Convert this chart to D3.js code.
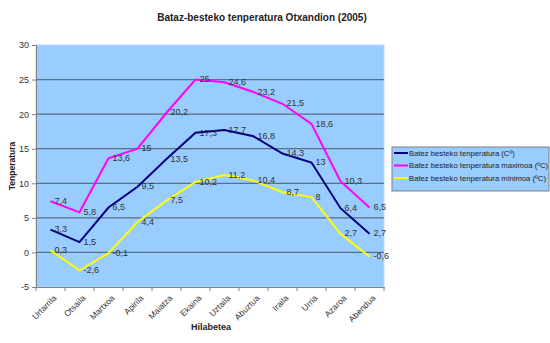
<!DOCTYPE html>
<html><head><meta charset="utf-8">
<script src="https://cdn.jsdelivr.net/npm/d3@7"></script>
<style>body{margin:0;background:#fff}svg{display:block;font-family:"Liberation Sans",Arial,sans-serif}</style>
</head><body><svg id="c" width="550" height="343"></svg>
<script>
const months = ["Urtarrila","Otsaila","Martxoa","Apirila","Maiatza","Ekaina","Uztaila","Abuztua","Iraila","Urria","Azaroa","Abendua"];
const avgTemp = [3.3,1.5,6.5,9.5,13.5,17.3,17.7,16.8,14.3,13,6.4,2.7];
const maxTemp = [7.4,5.8,13.6,15,20.2,25,24.6,23.2,21.5,18.6,10.3,6.5];
const minTemp = [0.3,-2.6,-0.1,4.4,7.5,10.2,11.2,10.4,8.7,8,2.7,-0.6];
const yTicks = [-5,0,5,10,15,20,25,30];
const seriesNames = ["Batez besteko tenperatura (Cº)","Batez besteko tenperatura maximoa (ºC)","Batez besteko tenperatura minimoa (ºC)"];
const seriesColors = ["#000080","#ff00ff","#ffff00"];

const svg = d3.select("#c");
const L=36,R=384,T=45,B=287;
const x = d3.scaleBand().domain(months).range([L,R]);
const y = d3.scaleLinear().domain([-5,30]).range([B,T]);
const fmt = v => String(v).replace(".",",");

svg.append("rect").attr("x",L).attr("y",T).attr("width",R-L).attr("height",B-T).attr("fill","#99ccff").attr("stroke","#bcdcff");
svg.append("g").selectAll("line").data(yTicks.filter(d=>d>-5&&d<30)).join("line")
  .attr("x1",L).attr("x2",R).attr("y1",d=>y(d)).attr("y2",d=>y(d)).attr("stroke","#5a6f82").attr("stroke-width",1.2);

const ya = svg.append("g").attr("transform",`translate(${L},0)`).call(d3.axisLeft(y).tickValues(yTicks).tickSize(4).tickFormat(d=>d));
const xa = svg.append("g").attr("transform",`translate(0,${B})`).call(d3.axisBottom(x).tickSize(0).tickFormat(""));
xa.selectAll(".tick").remove();
svg.append("g").selectAll("line").data(d3.range(13)).join("line")
  .attr("x1",i=>L+i*x.step()).attr("x2",i=>L+i*x.step()).attr("y1",B).attr("y2",B+4).attr("stroke","#808080");
[ya,xa].forEach(g=>{g.select(".domain").attr("stroke","#808080");g.selectAll(".tick line").attr("stroke","#808080");});
ya.selectAll("text").attr("font-size",9).attr("fill","#333").attr("font-family","Liberation Sans, Arial");

svg.append("g").selectAll("text").data(months).join("text")
  .attr("transform",d=>`translate(${x(d)+x.bandwidth()/2+3},${B+8}) rotate(-45)`)
  .attr("text-anchor","end").attr("dy","0.6em").attr("font-size",8.5).attr("fill","#333").text(d=>d);

const all=[avgTemp,maxTemp,minTemp];
const line=d3.line().x((d,i)=>x(months[i])+x.bandwidth()/2).y(d=>y(d));
all.forEach((s,k)=>{
  svg.append("path").datum(s).attr("d",line).attr("fill","none").attr("stroke",seriesColors[k]).attr("stroke-width",2);
});
all.forEach((s,k)=>{
  svg.append("g").selectAll("text").data(s).join("text")
    .attr("x",(d,i)=>x(months[i])+x.bandwidth()/2+4).attr("y",d=>y(d)).attr("dy","0.3em")
    .attr("font-size",9).attr("fill","#333").text(d=>fmt(d));
});

svg.append("text").attr("x",262).attr("y",21).attr("text-anchor","middle").attr("font-size",10).attr("font-weight","bold").attr("fill","#222").text("Bataz-besteko tenperatura Otxandion (2005)");
svg.append("text").attr("transform","translate(15,166) rotate(-90)").attr("text-anchor","middle").attr("font-size",8.5).attr("font-weight","bold").attr("fill","#222").text("Tenperatura");
svg.append("text").attr("x",211).attr("y",330).attr("text-anchor","middle").attr("font-size",9).attr("font-weight","bold").attr("fill","#222").text("Hilabetea");

const lg=svg.append("g");
const lrect=lg.append("rect").attr("x",392).attr("y",147).attr("width",150).attr("height",44).attr("fill","#99ccff").attr("stroke","#808080");
let maxW=0;
seriesNames.forEach((n,k)=>{
  const yy=153+k*12.5;
  lg.append("line").attr("x1",394).attr("x2",408).attr("y1",yy).attr("y2",yy).attr("stroke",seriesColors[k]).attr("stroke-width",2);
  const t=lg.append("text").attr("x",409).attr("y",yy).attr("dy","0.35em").attr("font-size",7.7).attr("fill","#222").text(n);
  maxW=Math.max(maxW,t.node().getComputedTextLength());
});
lrect.attr("width",Math.min(157,409+maxW+3-392));
</script></body></html>
